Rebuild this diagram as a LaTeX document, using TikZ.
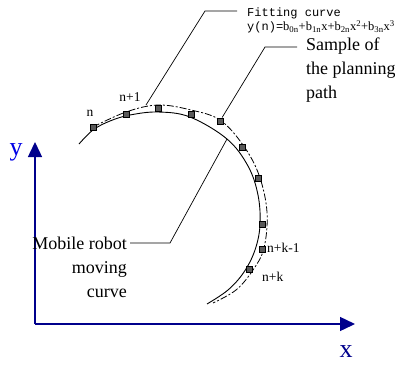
\documentclass[tikz,border=0pt]{standalone}
\usepackage{fontspec}
\setmainfont{Liberation Serif}
\setmonofont{Liberation Mono}
\usetikzlibrary{arrows.meta}
\definecolor{axisblue}{RGB}{0,0,140}
\definecolor{labelblue}{RGB}{0,0,230}
\tikzset{
  axis/.style={-{Triangle[length=15pt,width=14pt]}, draw=axisblue, line width=1.4pt},
  axislabel/.style={font=\fontsize{26}{28}\selectfont, inner sep=0pt},
  robotcurve/.style={black, line width=0.9pt},
  fitcurve/.style={black, line width=0.8pt, dash pattern=on 7pt off 2pt on 2pt off 2pt},
  sample/.style={draw=black, fill=black!65, line width=0.5pt, minimum size=6.5pt, inner sep=0pt},
  leader/.style={black, line width=0.7pt},
  idx/.style={font=\fontsize{13.5}{16}\selectfont, inner sep=0pt},
  note/.style={font=\fontsize{18}{24}\selectfont, inner sep=0pt},
  fitnote/.style={font=\fontsize{12}{12.5}\selectfont, inner sep=0pt}
}
\begin{document}
\begin{tikzpicture}[x=1pt, y=-1pt]
  \useasboundingbox (0,0) rectangle (395,364);
  % axes
  \coordinate (O) at (35,324);
  \coordinate (xend) at (355,324);
  \coordinate (yend) at (35,142);
  \draw[axis] (O) -- (xend);
  \draw[axis] (O) -- (yend);
  \node[axislabel, text=axisblue] (xlab) at (346,352) {x};
  \node[axislabel, text=labelblue] (ylab) at (16,152) {y};

  % robot path and fitted curve
  \draw[robotcurve] plot[smooth, tension=0.6] coordinates {(79,144) (93,130) (110,121) (130,115) (158,112) (190,117) (227,139) (248,166) (258,195) (260,225) (255,250) (244,272) (228,290) (207,304)};
  \draw[fitcurve] plot[smooth, tension=0.6] coordinates {(93,127) (126,112) (158,105) (191,110) (220,120) (243,145) (259,175) (267,212) (264,248) (253,270) (236,290) (213,303)};

  % samples of the planning path
  \foreach \px/\py [count=\i] in {93/127, 126/114, 158/108, 191/114, 220/121, 242/147, 258/178, 262/224, 262/249, 249/269}
    \node[sample] (s\i) at (\px,\py) {};

  \node[idx] (nlab) at (90,113) {n};
  \node[idx] (n1lab) at (130,97) {n+1};
  \node[idx, anchor=west] (nk1lab) at (267,248) {n+k-1};
  \node[idx, anchor=west] (nklab) at (262,277) {n+k};

  % labels and leaders
  \node[fitnote, anchor=north west, align=left] (fitlab) at (247,8)
    {\ttfamily Fitting curve\\{\ttfamily y(n)=}{\fontsize{12.5}{12.5}\selectfont b\textsubscript{0n}+b\textsubscript{1n}x+b\textsubscript{2n}x\textsuperscript{2}+b\textsubscript{3n}x\textsuperscript{3}}};
  \node[note, anchor=north west, align=left] (samplelab) at (306,38) {Sample of\\the planning\\path};
  \node[note, anchor=north east, align=right] (robotlab) at (127,237) {Mobile robot\\moving\\curve};

  \coordinate (fitpt) at (146,105);
  \coordinate (fitknee) at (205,11);
  \coordinate (fitend) at (237,11);
  \draw[leader] (fitpt) -- (fitknee) -- (fitend);
  \coordinate (sampleknee) at (265,47);
  \coordinate (sampleend) at (297,47);
  \draw[leader] (s5) -- (sampleknee) -- (sampleend);
  \coordinate (robotpt) at (227,139);
  \coordinate (robotknee) at (170,243);
  \coordinate (robotend) at (130,243);
  \draw[leader] (robotpt) -- (robotknee) -- (robotend);
\end{tikzpicture}
\end{document}
